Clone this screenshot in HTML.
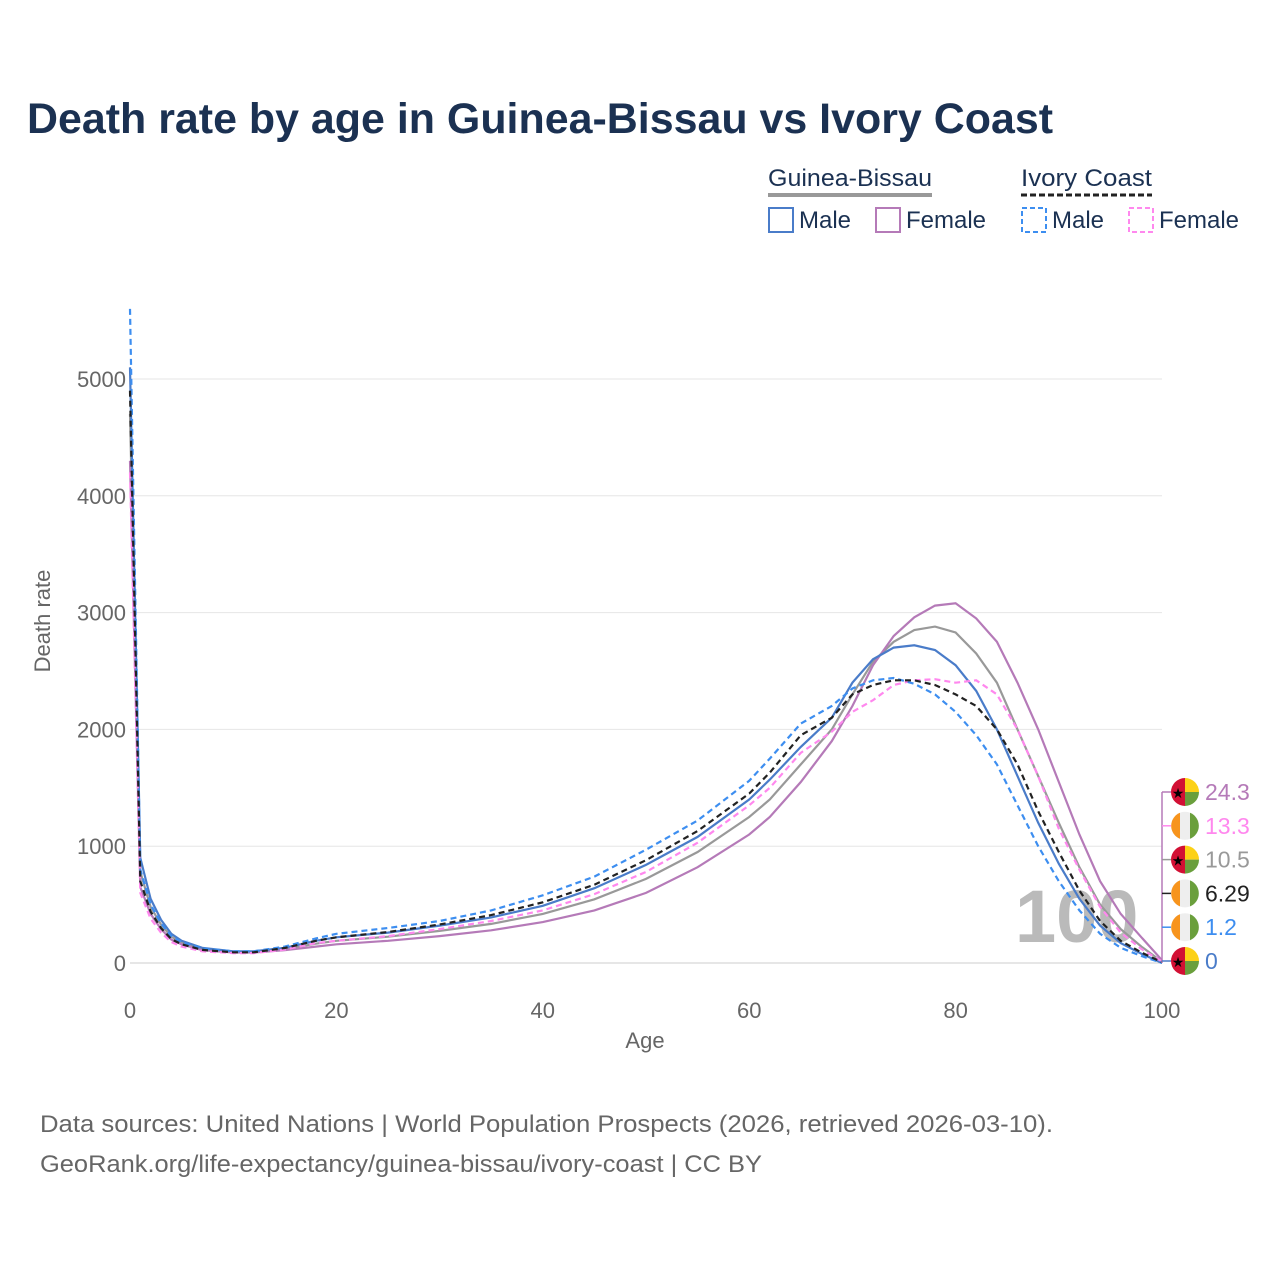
<!DOCTYPE html>
<html><head><meta charset="utf-8"><style>
body{margin:0;background:#fff;font-family:"Liberation Sans",sans-serif}
svg text{font-family:"Liberation Sans",sans-serif}
</style></head><body>
<svg id="c" width="1280" height="1280" xmlns="http://www.w3.org/2000/svg">
<text x="27" y="133" font-size="43" font-weight="bold" fill="#1b3152" textLength="1026" lengthAdjust="spacingAndGlyphs">Death rate by age in Guinea-Bissau vs Ivory Coast</text>
<g font-size="24" fill="#1b3152">
<text x="768" y="186" fill="#1b3152" textLength="164" lengthAdjust="spacingAndGlyphs">Guinea-Bissau</text>
<line x1="768" y1="195" x2="932" y2="195" stroke="#999" stroke-width="4"/>
<text x="1021" y="186" textLength="131" lengthAdjust="spacingAndGlyphs">Ivory Coast</text>
<line x1="1021" y1="195" x2="1152" y2="195" stroke="#222" stroke-width="3" stroke-dasharray="6,3"/>
<rect x="769" y="208" width="24" height="24" fill="none" stroke="#4a7cc9" stroke-width="2"/>
<text x="799" y="228">Male</text>
<rect x="876" y="208" width="24" height="24" fill="none" stroke="#b57ab8" stroke-width="2"/>
<text x="906" y="228">Female</text>
<rect x="1022" y="208" width="24" height="24" fill="none" stroke="#3d8ef0" stroke-width="2" stroke-dasharray="5,3"/>
<text x="1052" y="228">Male</text>
<rect x="1129" y="208" width="24" height="24" fill="none" stroke="#ff88ee" stroke-width="2" stroke-dasharray="5,3"/>
<text x="1159" y="228">Female</text>
</g>
<g id="grid"></g>
<text x="1015" y="942" font-size="74" font-weight="bold" fill="#aaa" opacity="0.8">100</text>
<g id="series"></g>
<g id="ends"></g>
<text x="645" y="1048" font-size="22" fill="#666" text-anchor="middle">Age</text>
<text transform="translate(50,621) rotate(-90)" font-size="22" fill="#666" text-anchor="middle">Death rate</text>
<text x="40" y="1132" font-size="24" fill="#666" textLength="1013" lengthAdjust="spacingAndGlyphs">Data sources: United Nations | World Population Prospects (2026, retrieved 2026-03-10).</text>
<text x="40" y="1172" font-size="24" fill="#666" textLength="722" lengthAdjust="spacingAndGlyphs">GeoRank.org/life-expectancy/guinea-bissau/ivory-coast | CC BY</text>
</svg>
<script>
const ages=[0,1,2,3,4,5,7,10,12,15,18,20,25,30,35,40,45,50,55,60,62,65,68,70,72,74,76,78,80,82,84,86,88,90,92,94,96,98,100];
const gbMale=[5100,900,550,370,250,190,130,100,100,130,190,220,260,320,390,490,640,840,1080,1400,1570,1850,2100,2400,2600,2700,2720,2680,2550,2330,2000,1600,1200,850,550,320,170,80,0];
const gbFemale=[4300,650,420,290,200,160,110,90,90,110,140,160,190,230,280,350,450,600,820,1100,1250,1550,1900,2200,2550,2800,2960,3060,3080,2950,2750,2400,2000,1550,1100,700,420,220,24];
const gbTotal=[4700,780,480,330,225,175,120,95,95,120,165,190,225,275,335,420,545,720,950,1250,1400,1700,2000,2300,2580,2750,2850,2880,2830,2650,2400,2000,1600,1200,820,500,290,140,10];
const icMale=[5600,800,500,340,230,180,125,100,100,140,210,250,300,360,450,580,740,970,1220,1560,1750,2050,2200,2350,2420,2440,2390,2300,2150,1950,1700,1350,1000,700,450,250,130,60,1];
const icFemale=[4200,600,380,260,180,140,100,85,85,115,170,190,230,290,360,450,590,780,1030,1350,1500,1800,1980,2150,2250,2380,2420,2430,2400,2420,2300,2000,1600,1150,800,480,260,120,13];
const icTotal=[4900,700,440,300,205,160,112,92,92,128,190,220,265,330,410,520,670,880,1130,1450,1630,1950,2100,2300,2380,2420,2420,2380,2300,2200,2000,1700,1300,950,620,360,190,90,6];
const yTicks=[0,1000,2000,3000,4000,5000];
const xTicks=[0,20,40,60,80,100];
const NS="http://www.w3.org/2000/svg";
const X=a=>130+a*10.32, Y=v=>963-v*0.1168;
function mk(t,at,p){const e=document.createElementNS(NS,t);for(const k in at)e.setAttribute(k,at[k]);p.appendChild(e);return e;}
const grid=document.getElementById('grid');
yTicks.forEach(v=>{
 const l=mk('line',{x1:130,x2:1162,y1:Y(v),y2:Y(v),stroke:v?'#e6e6e6':'#ccc','stroke-width':1},grid);
 
 
 const t=mk('text',{x:126,y:Y(v)+8,'font-size':22,fill:'#666','text-anchor':'end'},grid);t.textContent=v;
 
 
});
xTicks.forEach(a=>{
 const t=mk('text',{x:X(a),y:1018,'font-size':22,fill:'#666','text-anchor':'middle'},grid);t.textContent=a;
 
 
});
const ser=document.getElementById('series');
const defs=[[gbTotal,'#999','','gb-total-line'],[gbFemale,'#b57ab8','','gb-female-line'],[gbMale,'#4a7cc9','','gb-male-line'],[icFemale,'#ff88ee','6,4','ic-female-line'],[icMale,'#3d8ef0','6,4','ic-male-line'],[icTotal,'#222','6,4','ic-total-line']];
defs.forEach(([d,c,da,n])=>{
 const p=mk('path',{d:'M'+ages.map((a,i)=>X(a).toFixed(1)+','+Y(d[i]).toFixed(1)).join('L'),fill:'none',stroke:c,'stroke-width':2.2,'stroke-dasharray':da},ser);
 
 
});
const ends=document.getElementById('ends');
const endVals=['24.3','13.3','10.5','6.29','1.2','0'];
const endCols=['#b57ab8','#ff88ee','#999','#222','#3d8ef0','#4a7cc9'];
const endFlag=['gb','ic','gb','ic','ic','gb'];
mk('line',{x1:1162,x2:1162,y1:792,y2:963,stroke:'#b57ab8','stroke-width':1.5},ends);
endVals.forEach((v,i)=>{
 const y=792+i*33.8,cx=1185;
 mk('line',{x1:1162,x2:1171,y1:y,y2:y,stroke:endCols[i],'stroke-width':1.5},ends);
 const g=mk('g',{},ends);
 
 
 if(endFlag[i]=='gb'){
  mk('path',{d:`M${cx} ${y-14}A14 14 0 0 0 ${cx} ${y+14}Z`,fill:'#d21034'},g);
  mk('path',{d:`M${cx} ${y-14}A14 14 0 0 1 ${cx+14} ${y}L${cx} ${y}Z`,fill:'#fcd116'},g);
  mk('path',{d:`M${cx+14} ${y}A14 14 0 0 1 ${cx} ${y+14}L${cx} ${y}Z`,fill:'#6a9f3c'},g);
  const s=mk('text',{x:cx-7,y:y+6,'font-size':14,fill:'#000','text-anchor':'middle'},g);s.textContent='★';
 }else{
  mk('circle',{cx:cx,cy:y,r:14,fill:'#eee'},g);
  mk('path',{d:`M${cx-5} ${y-13}A14 14 0 0 0 ${cx-5} ${y+13}Z`,fill:'#f7941d'},g);
  mk('path',{d:`M${cx+5} ${y-13}A14 14 0 0 1 ${cx+5} ${y+13}Z`,fill:'#6a9f3c'},g);
 }
 const t=mk('text',{x:1205,y:y+8,'font-size':23,fill:endCols[i]},ends);t.textContent=v;
 
 
});
</script>
</body></html>
